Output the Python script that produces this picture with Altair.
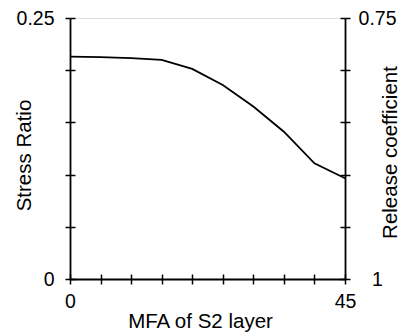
import altair as alt
import pandas as pd

# Data
mfa = [0, 5, 10, 15, 20, 25, 30, 35, 40, 45]
stress_ratio = [0.213, 0.2125, 0.2115, 0.2098, 0.2012, 0.1858, 0.1652, 0.1411, 0.1108, 0.0965]

mfa_ticks = [0, 5, 10, 15, 20, 25, 30, 35, 40, 45]
stress_ticks = [0, 0.05, 0.1, 0.15, 0.2, 0.25]
release_ticks = [0.75, 0.8, 0.85, 0.9, 0.95, 1.0]

FONT = "Liberation Sans"
LABEL_SIZE = 19.5
TITLE_SIZE = 20.5

df_line = pd.DataFrame({"mfa": mfa, "stress": stress_ratio})
df_mfa = pd.DataFrame({"t": mfa_ticks})
df_stress = pd.DataFrame({"t": stress_ticks})
df_release = pd.DataFrame({"t": release_ticks})

xscale = alt.Scale(domain=[0, 45], nice=False, zero=False)
yscale = alt.Scale(domain=[0, 0.25], nice=False, zero=False)
rscale = alt.Scale(domain=[0.75, 1.0], nice=False, zero=False, reverse=True)

common = dict(domainColor="black", tickColor="black", labelColor="black",
              titleColor="black", labelFont=FONT, titleFont=FONT,
              labelFontSize=LABEL_SIZE, titleFontSize=TITLE_SIZE,
              titleFontWeight="normal",
              grid=False, tickWidth=1.5, domainWidth=1.8,
              labelOverlap=False, labelFlush=False)

inner = dict(domain=False, labels=False, title=None, ticks=True, tickSize=5,
             tickColor="black", tickWidth=1.5, grid=False, offset=-5)

line = alt.Chart(df_line).mark_line(color="black", strokeWidth=1.8).encode(
    x=alt.X("mfa:Q", scale=xscale, axis=alt.Axis(
        orient="bottom", values=mfa_ticks, tickSize=5,
        labelExpr="datum.value == 0 ? '0' : (datum.value == 45 ? '45' : '')",
        labelPadding=8, title="MFA of S2 layer", titleAlign="center",
        titleBaseline="alphabetic", titleX=130, titleY=48, **common)),
    y=alt.Y("stress:Q", scale=yscale, axis=alt.Axis(
        orient="left", values=stress_ticks, tickSize=5,
        labelExpr="datum.value == 0 ? '0' : (datum.value == 0.25 ? '0.25' : '')",
        labelPadding=11, title="Stress Ratio", titleAngle=270,
        titleAlign="center", titleBaseline="middle", titleX=-46, titleY=137,
        **common)),
)

inner_x = alt.Chart(df_mfa).mark_point(opacity=0).encode(
    x=alt.X("t:Q", scale=xscale, axis=alt.Axis(orient="bottom", values=mfa_ticks, **inner)),
)

inner_left = alt.Chart(df_stress).mark_point(opacity=0).encode(
    y=alt.Y("t:Q", scale=yscale, axis=alt.Axis(orient="left", values=stress_ticks, **inner)),
)

right_main = alt.Chart(df_release).mark_point(opacity=0).encode(
    y=alt.Y("t:Q", scale=rscale, axis=alt.Axis(
        orient="right", values=release_ticks, tickSize=5,
        labelExpr="datum.value == 0.75 ? '0.75' : (datum.value == 1 ? '1' : '')",
        labelAlign="center", labelPadding=27, title="Release coefficient",
        titleAngle=270, titleAlign="center", titleBaseline="middle",
        titleX=45, titleY=134, **common)),
)

right_inner = alt.Chart(df_release).mark_point(opacity=0).encode(
    y=alt.Y("t:Q", scale=rscale, axis=alt.Axis(orient="right", values=release_ticks, **inner)),
)

chart = alt.layer(line, inner_x, inner_left, right_main, right_inner).resolve_scale(
    x="independent", y="independent"
).resolve_axis(
    x="independent", y="independent"
).properties(
    width=275, height=261,
    autosize=alt.AutoSizeParams(type="none"),
    padding={"left": 70, "top": 18, "right": 58, "bottom": 57},
).configure_view(stroke=None).configure(background="white")

chart.save("out.html", embed_options={"renderer": "svg", "actions": False})
